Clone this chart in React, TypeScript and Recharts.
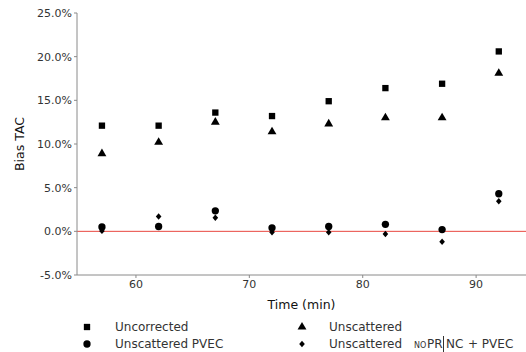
import React from 'react';
import {
  ScatterChart,
  Scatter,
  XAxis,
  YAxis,
  ReferenceLine,
  Symbols,
} from 'recharts';

// Time points (min) and bias values (%)
const times = [57, 62, 67, 72, 77, 82, 87, 92];
const uncorrected = [12.1, 12.1, 13.6, 13.2, 14.9, 16.4, 16.9, 20.6];
const unscattered = [8.9, 10.2, 12.5, 11.4, 12.3, 13.0, 13.0, 18.1];
const unscatteredPvec = [0.5, 0.55, 2.35, 0.4, 0.55, 0.8, 0.2, 4.3];
const unscatteredNoprNcPvec = [0.05, 1.7, 1.55, -0.1, -0.1, -0.3, -1.2, 3.45];

const xTicks = [60, 70, 80, 90];
const yTicks = [-5, 0, 5, 10, 15, 20, 25];

const FONT = '"DejaVu Sans", sans-serif';
const AXIS = '#8a8a8a';
const TEXT = '#333333';

const toPoints = (values: number[]) => times.map((t, i) => ({ t, v: values[i] }));

// small rotated square, the marker used for the last series
const Diamond = ({ cx, cy }: { cx: number; cy: number }) => (
  <path d={`M${cx},${cy - 3.2}L${cx + 2.8},${cy}L${cx},${cy + 3.2}L${cx - 2.8},${cy}Z`} fill="#000" />
);

const makeShape = (type: any, size: number) => (props: any) =>
  type === 'diamond' ? (
    <Diamond cx={props.cx} cy={props.cy} />
  ) : (
    <Symbols cx={props.cx} cy={props.cy} type={type} size={size} fill="#000" />
  );

const SERIES = [
  { name: 'Uncorrected', values: uncorrected, type: 'square', size: 40 },
  { name: 'Unscattered', values: unscattered, type: 'triangle', size: 34 },
  { name: 'Unscattered PVEC', values: unscatteredPvec, type: 'circle', size: 42 },
  { name: 'Unscattered NOPR|NC + PVEC', values: unscatteredNoprNcPvec, type: 'diamond', size: 14 },
];

function LegendBox() {
  const row1 = 327;
  const row2 = 344;
  const textStyle = { fontFamily: FONT, fontSize: 12, fill: TEXT };
  return (
    <svg width={526} height={352} style={{ position: 'absolute', left: 0, top: 0, pointerEvents: 'none' }}>
      <Symbols cx={87} cy={row1} type="square" size={40} fill="#000" />
      <text x={115} y={row1} dominantBaseline="central" style={textStyle}>Uncorrected</text>
      <Symbols cx={87} cy={row2} type="circle" size={42} fill="#000" />
      <text x={115} y={row2} dominantBaseline="central" style={textStyle}>Unscattered PVEC</text>
      <Symbols cx={302} cy={row1} type="triangle" size={34} fill="#000" />
      <text x={329} y={row1} dominantBaseline="central" style={textStyle}>Unscattered</text>
      <Diamond cx={302} cy={row2} />
      <text x={329} y={row2} dominantBaseline="central" style={textStyle}>Unscattered</text>
      <text x={414} y={row2 + 1} dominantBaseline="central" style={{ ...textStyle, fontSize: 8 }}>NO</text>
      <text x={427} y={row2} dominantBaseline="central" style={textStyle}>PR</text>
      <line x1={443.5} x2={443.5} y1={row2 - 8} y2={row2 + 8} stroke={TEXT} strokeWidth={1} />
      <text x={446} y={row2} dominantBaseline="central" style={textStyle}>NC</text>
      <text x={468} y={row2} dominantBaseline="central" style={textStyle}>+ PVEC</text>
    </svg>
  );
}

export default function App() {
  return (
    <div style={{ position: 'absolute', left: 0, top: 0, width: 526, height: 352, background: '#fff' }}>
      <ScatterChart width={526} height={352} margin={{ top: 13, right: 0, left: 0, bottom: 37 }}>
        <XAxis
          type="number"
          dataKey="t"
          domain={[54.8, 94.4]}
          ticks={xTicks}
          allowDataOverflow
          height={40}
          stroke={AXIS}
          tickSize={3}
          tick={{ fill: TEXT, fontSize: 11, fontFamily: FONT }}
          label={{
            value: 'Time (min)',
            position: 'insideBottom',
            offset: 6,
            style: { fill: '#111', fontSize: 12.5, fontFamily: FONT },
          }}
        />
        <YAxis
          type="number"
          dataKey="v"
          domain={[-5, 25]}
          ticks={yTicks}
          width={77}
          stroke={AXIS}
          tickSize={3}
          tickFormatter={(v: number) => `${v.toFixed(1)}%`}
          tick={{ fill: TEXT, fontSize: 11, fontFamily: FONT }}
          label={{
            content: () => (
              <text
                x={19}
                y={144}
                transform="rotate(-90 19 144)"
                textAnchor="middle"
                dominantBaseline="central"
                style={{ fill: '#111', fontSize: 12.5, fontFamily: FONT }}
              >
                Bias TAC
              </text>
            ),
          }}
        />
        <ReferenceLine y={0} stroke="#e8463f" strokeWidth={1} />
        {SERIES.map((s) => (
          <Scatter
            key={s.name}
            name={s.name}
            data={toPoints(s.values)}
            shape={makeShape(s.type, s.size)}
            isAnimationActive={false}
          />
        ))}
      </ScatterChart>
      <LegendBox />
    </div>
  );
}
